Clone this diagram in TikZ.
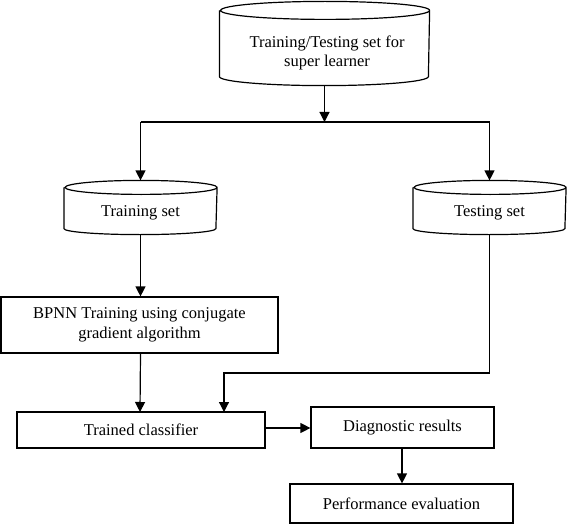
\documentclass[tikz,border=0pt]{standalone}
\usepackage{fontspec}
\setmainfont{Liberation Serif}
\usetikzlibrary{arrows.meta}
\begin{document}
\begin{tikzpicture}[x=1pt,y=1pt,
  line width=1.2pt,
  arr/.style={-{Triangle[length=10pt,width=10pt]}},
  box/.style={draw,inner sep=0pt,align=center,font=\fontsize{16.5}{19.5}\selectfont},
  ghost/.style={inner sep=0pt},
  txt/.style={inner sep=0pt,align=center,font=\fontsize{16.5}{19.5}\selectfont}]
\useasboundingbox (0,0) rectangle (567,-524);

% top cylinder: x 220-429, top ellipse centre y=11, bottom side y=76, ry=9
\node[ghost,minimum width=209pt,minimum height=65pt] (top) at (324.5,-43.5) {};
\draw (top.north west) -- (top.south west)
      arc[start angle=180,end angle=360,x radius=104.5pt,y radius=9pt]
      -- (top.north east)
      arc[start angle=0,end angle=360,x radius=104.5pt,y radius=9pt];
\node[txt] (toptxt) at (327,-53) {Training/Testing set for\\super learner};
\coordinate (topb) at ([yshift=-9pt]top.south);

% training set cylinder
\node[ghost,minimum width=152pt,minimum height=40pt] (train) at (140.5,-208) {};
\draw (train.north west) -- (train.south west)
      arc[start angle=180,end angle=360,x radius=76pt,y radius=6pt]
      -- (train.north east)
      arc[start angle=0,end angle=360,x radius=76pt,y radius=7pt];
\node[txt] (traintxt) at (140.5,-213) {Training set};
\coordinate (traint) at ([yshift=7pt]train.north);
\coordinate (trainb) at ([yshift=-6pt]train.south);

% testing set cylinder
\node[ghost,minimum width=152pt,minimum height=40pt] (test) at (489.5,-208) {};
\draw (test.north west) -- (test.south west)
      arc[start angle=180,end angle=360,x radius=76pt,y radius=6pt]
      -- (test.north east)
      arc[start angle=0,end angle=360,x radius=76pt,y radius=7pt];
\node[txt] (testtxt) at (489.5,-213) {Testing set};
\coordinate (testt) at ([yshift=7pt]test.north);
\coordinate (testb) at ([yshift=-6pt]test.south);

% boxes
\node[box,minimum width=277pt,minimum height=56pt] (bpnn) at (139.5,-325)
  {BPNN Training using conjugate\\gradient algorithm};
\node[box,minimum width=248pt,minimum height=36pt] (tc) at (141,-430) {Trained classifier};
\node[box,minimum width=183pt,minimum height=41pt] (diag) at (402.5,-427.5) {Diagnostic results};
\node[box,minimum width=223pt,minimum height=39pt] (perf) at (401.5,-503.5) {Performance evaluation};

% junction coordinates
\coordinate (jm) at (topb |- 0,-122);
\coordinate (jl) at (traint |- 0,-122);
\coordinate (jr) at (testt |- 0,-122);
\coordinate (tc1) at (140,-412);
\coordinate (tc2) at (224,-412);
\coordinate (tk) at (224,-373);

% connectors
\draw[arr] (topb) -- (jm);
\draw (jl) -- (jr);
\draw[arr] (jl) -- (traint);
\draw[arr] (jr) -- (testt);
\draw[arr] (trainb) -- (trainb |- bpnn.north);
\draw[arr] (trainb |- bpnn.south) -- (tc1);
\draw[arr] (testb) |- (tk) -- (tc2);
\draw[arr] (tc.east |- 0,-428) -- (diag.west |- 0,-428);
\draw[arr] (diag.south -| 402,0) -- (perf.north -| 402,0);
\end{tikzpicture}
\end{document}
